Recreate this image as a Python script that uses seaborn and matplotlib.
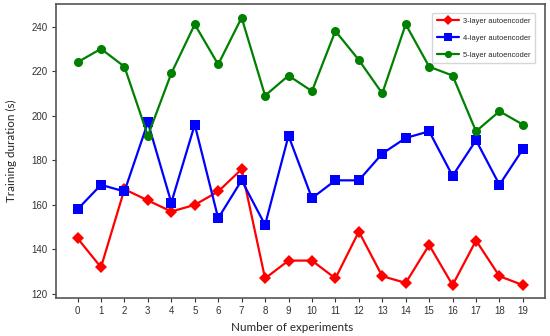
import matplotlib
matplotlib.use("Agg")
import matplotlib.pyplot as plt
import seaborn as sns
import pandas as pd

experiments = list(range(20))
layer3 = [145, 132, 167, 162, 157, 160, 166, 176, 127, 135, 135, 127, 148, 128, 125, 142, 124, 144, 128, 124]
layer4 = [158, 169, 166, 197, 161, 196, 154, 171, 151, 191, 163, 171, 171, 183, 190, 193, 173, 189, 169, 185]
layer5 = [224, 230, 222, 191, 219, 241, 223, 244, 209, 218, 211, 238, 225, 210, 241, 222, 218, 193, 202, 196]
series_names = ["3-layer autoencoder", "4-layer autoencoder", "5-layer autoencoder"]
yticks = [120, 140, 160, 180, 200, 220, 240]

rows = []
for name, vals in zip(series_names, [layer3, layer4, layer5]):
    for x, v in zip(experiments, vals):
        rows.append({"exp": x, "dur": v, "series": name})
df = pd.DataFrame(rows)

sns.set_style("ticks")
fig = plt.figure(figsize=(5.5, 3.36), dpi=100)
ax = fig.add_axes([0.1018, 0.113, 0.889, 0.875])

palette = {series_names[0]: "#ff0000", series_names[1]: "#0000ff", series_names[2]: "#008000"}
markers = {series_names[0]: "D", series_names[1]: "s", series_names[2]: "o"}
sns.lineplot(data=df, x="exp", y="dur", hue="series", style="series",
             palette=palette, markers=markers, dashes=False, linewidth=1.6,
             markersize=6.5, markeredgewidth=0, ax=ax)

ax.set_xlim(-0.92, 19.94)
ax.set_ylim(118.2, 250.1)
ax.set_xticks(experiments)
ax.set_yticks(yticks)
ax.tick_params(labelsize=7, colors="#333333", length=3, width=0.8, pad=3)
for lab in ax.get_xticklabels() + ax.get_yticklabels():
    lab.set_family(["Liberation Sans", "DejaVu Sans"])
for s in ax.spines.values():
    s.set_color("#555555")
    s.set_linewidth(1.2)
ax.set_xlabel("Number of experiments", fontsize=8.4, family=["Lato", "DejaVu Sans"])
ax.set_ylabel("Training duration (s)", fontsize=8.4, family=["Lato", "DejaVu Sans"])
ax.xaxis.set_label_coords(0.483, -0.082)
ax.yaxis.set_label_coords(-0.08, 0.5)
leg = ax.legend(loc="upper right", bbox_to_anchor=(0.988, 0.983), frameon=True,
                prop={"family": ["Liberation Sans", "DejaVu Sans"], "size": 5.4},
                borderpad=0.6, labelspacing=1.3, handlelength=3.0, handletextpad=0.5,
                markerscale=0.8)
leg.set_title(None)
fig.savefig("out.png", dpi=100)
